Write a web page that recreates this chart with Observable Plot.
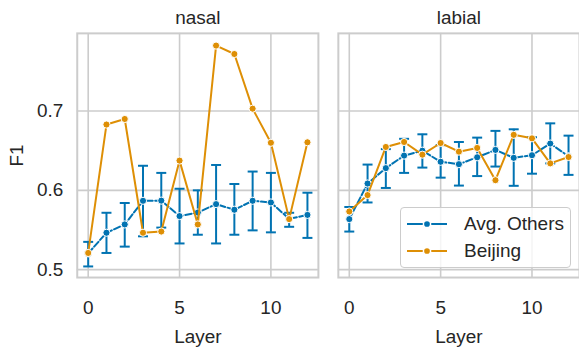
<!DOCTYPE html>
<html>
<head>
<meta charset="utf-8">
<script src="https://cdn.jsdelivr.net/npm/d3@7"></script>
<script src="https://cdn.jsdelivr.net/npm/@observablehq/plot@0.6"></script>
<style>
  html, body { margin: 0; padding: 0; background: #fff; overflow: hidden; }
  #wrap { position: relative; width: 579px; height: 347px; overflow: hidden; }
  #legend {
    position: absolute; left: 400px; top: 207px; width: 169px; height: 59px;
    background: rgba(255,255,255,0.8); border: 1px solid #cccccc; border-radius: 4px;
    font-family: "Liberation Sans", Arial, sans-serif; font-size: 19px; color: #262626;
  }
  .row { position: absolute; left: 0; height: 20px; display: flex; align-items: center; }
  .row svg { margin-left: 6px; }
  .row span { margin-left: 15px; }
</style>
</head>
<body>
<div id="wrap"></div>
<script>
const panels = ["nasal", "labial"];
const layers = [0, 1, 2, 3, 4, 5, 6, 7, 8, 9, 10, 11, 12];
const xTicks = [0, 5, 10];
const yTicks = [0.5, 0.6, 0.7];
const seriesNames = ["Avg. Others", "Beijing"];
const xLabel = "Layer";
const yLabel = "F1";

const nasalOthers   = [0.5205, 0.5465, 0.557, 0.5868, 0.587, 0.5675, 0.572, 0.5826, 0.5755, 0.5868, 0.5847, 0.564, 0.569];
const nasalOthersLo = [0.504, 0.521, 0.529, 0.542, 0.553, 0.533, 0.544, 0.533, 0.544, 0.5495, 0.547, 0.554, 0.540];
const nasalOthersHi = [0.535, 0.5717, 0.584, 0.631, 0.622, 0.602, 0.600, 0.632, 0.608, 0.6237, 0.622, 0.5717, 0.597];
const nasalBeijing  = [0.521, 0.683, 0.690, 0.5465, 0.548, 0.6375, 0.557, 0.7826, 0.772, 0.703, 0.660, 0.5637, 0.6606];

const labialOthers   = [0.5637, 0.6086, 0.628, 0.6438, 0.650, 0.636, 0.633, 0.6417, 0.651, 0.641, 0.6443, 0.659, 0.643];
const labialOthersLo = [0.548, 0.5847, 0.603, 0.622, 0.6287, 0.616, 0.606, 0.618, 0.630, 0.6057, 0.621, 0.634, 0.6195];
const labialOthersHi = [0.579, 0.6325, 0.652, 0.665, 0.6707, 0.657, 0.661, 0.6665, 0.675, 0.677, 0.667, 0.6845, 0.669];
const labialBeijing  = [0.5733, 0.594, 0.6547, 0.661, 0.645, 0.6597, 0.6488, 0.6535, 0.6128, 0.670, 0.6656, 0.634, 0.642];

const BLUE = "#0173b2", ORANGE = "#de8f05", GRID = "#cccccc";

const others = [], beijing = [];
layers.forEach((l, i) => {
  others.push({panel: "nasal", layer: l, mean: nasalOthers[i], lo: nasalOthersLo[i], hi: nasalOthersHi[i]});
  others.push({panel: "labial", layer: l, mean: labialOthers[i], lo: labialOthersLo[i], hi: labialOthersHi[i]});
  beijing.push({panel: "nasal", layer: l, value: nasalBeijing[i]});
  beijing.push({panel: "labial", layer: l, value: labialBeijing[i]});
});

const capSymbol = {
  draw(context, size) {
    const w = Math.sqrt(size / Math.PI);
    context.moveTo(-w, 0);
    context.lineTo(w, 0);
  }
};

const chart = Plot.plot({
  width: 581,
  height: 347,
  marginLeft: 77,
  marginRight: 0,
  marginTop: 33,
  marginBottom: 69,
  style: {fontFamily: "Liberation Sans, Arial, sans-serif", fontSize: "19px", color: "#262626", background: "white", overflow: "visible"},
  fx: {domain: panels, paddingInner: 0.078, paddingOuter: 0},
  x: {domain: [-0.6, 12.6]},
  y: {domain: [0.490, 0.798]},
  marks: [
    Plot.gridX({ticks: xTicks, stroke: GRID, strokeOpacity: 1, strokeWidth: 1.6}),
    Plot.gridY({ticks: yTicks, stroke: GRID, strokeOpacity: 1, strokeWidth: 1.6}),
    Plot.frame({stroke: GRID, strokeWidth: 2}),
    Plot.axisFx({anchor: "top", tickSize: 0, tickPadding: 9, fontSize: 19, label: null}),
    Plot.axisX({ticks: xTicks, tickSize: 0, tickPadding: 23, fontSize: 19, label: null}),
    Plot.text(panels, {fx: d => d, text: () => xLabel, frameAnchor: "bottom", lineAnchor: "bottom", dy: 66, fontSize: 19, fill: "#262626"}),
    Plot.axisY({ticks: yTicks, tickSize: 0, tickPadding: 14, fontSize: 19, tickFormat: d3.format(".1f"), label: yLabel, labelAnchor: "center", labelArrow: "none", labelOffset: 68}),
    Plot.ruleX(others, {fx: "panel", x: "layer", y1: "lo", y2: "hi", stroke: BLUE, strokeWidth: 2}),
    Plot.dot(others, {fx: "panel", x: "layer", y: "lo", symbol: capSymbol, r: 5, fill: "none", stroke: BLUE, strokeWidth: 2}),
    Plot.dot(others, {fx: "panel", x: "layer", y: "hi", symbol: capSymbol, r: 5, fill: "none", stroke: BLUE, strokeWidth: 2}),
    Plot.lineY(others, {fx: "panel", x: "layer", y: "mean", stroke: BLUE, strokeWidth: 2, strokeDasharray: "6.5,2.5"}),
    Plot.dot(others, {fx: "panel", x: "layer", y: "mean", r: 3.6, fill: BLUE, stroke: "white", strokeWidth: 1}),
    Plot.lineY(beijing, {fx: "panel", x: "layer", y: "value", stroke: ORANGE, strokeWidth: 2}),
    Plot.dot(beijing, {fx: "panel", x: "layer", y: "value", r: 3.6, fill: ORANGE, stroke: "white", strokeWidth: 1})
  ]
});

const wrap = document.getElementById("wrap");
wrap.appendChild(chart);

const legend = document.createElement("div");
legend.id = "legend";
const colors = [BLUE, ORANGE];
seriesNames.forEach((name, i) => {
  const row = document.createElement("div");
  row.className = "row";
  row.style.top = (6 + i * 27) + "px";
  row.innerHTML = `<svg width="42" height="20"><line x1="0" y1="10" x2="40" y2="10" stroke="${colors[i]}" stroke-width="2"/><circle cx="20" cy="10" r="3.6" fill="${colors[i]}" stroke="white" stroke-width="1.5"/></svg><span>${name}</span>`;
  legend.appendChild(row);
});
wrap.appendChild(legend);
</script>
</body>
</html>
